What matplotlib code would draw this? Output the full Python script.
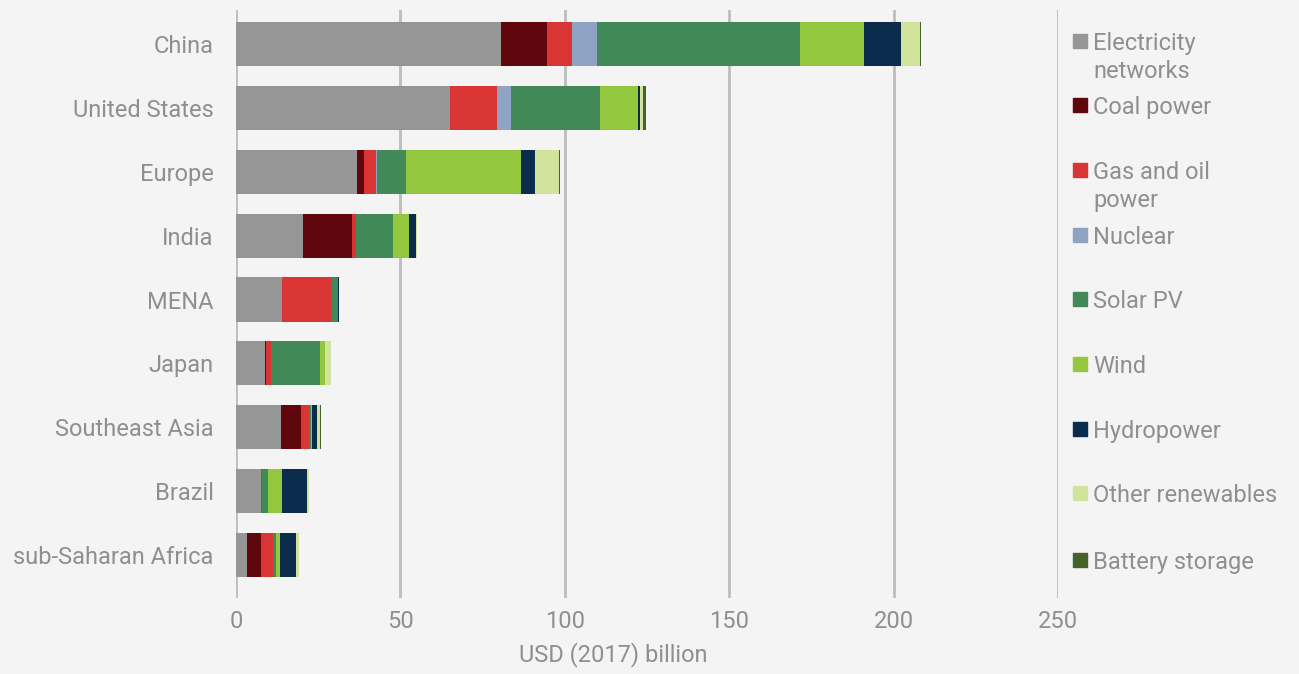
import matplotlib.pyplot as plt
import numpy as np

plt.rcParams['font.family'] = ['Roboto', 'DejaVu Sans']

regions = ['China', 'United States', 'Europe', 'India', 'MENA', 'Japan',
           'Southeast Asia', 'Brazil', 'sub-Saharan Africa']

networks = [80.6, 65.2, 36.8, 20.5, 14.1, 8.7, 13.8, 7.5, 3.2]
coal = [14.1, 0.0, 2.1, 14.7, 0.0, 0.3, 6.0, 0.0, 4.3]
gas_oil = [7.5, 14.1, 3.7, 1.3, 14.8, 1.7, 2.4, 0.4, 3.7]
nuclear = [7.6, 4.3, 0.4, 0.0, 0.0, 0.0, 0.0, 0.0, 0.0]
solar = [61.7, 27.1, 8.7, 11.3, 2.1, 14.9, 0.5, 1.8, 0.9]
wind = [19.4, 11.6, 35.1, 4.9, 0.0, 1.6, 0.5, 4.2, 1.3]
hydro = [11.3, 0.5, 4.1, 2.0, 0.3, 0.0, 1.3, 7.6, 4.9]
other = [5.8, 1.0, 7.2, 0.3, 0.0, 1.7, 1.1, 0.6, 1.0]
battery = [0.3, 0.8, 0.5, 0.0, 0.0, 0.0, 0.2, 0.0, 0.0]

series = ['Electricity\nnetworks', 'Coal power', 'Gas and oil\npower', 'Nuclear',
          'Solar PV', 'Wind', 'Hydropower', 'Other renewables', 'Battery storage']
values = [networks, coal, gas_oil, nuclear, solar, wind, hydro, other, battery]
colors = ['#969696', '#5f070c', '#d93535', '#8fa3c4', '#418956',
          '#93c83e', '#0b2c4c', '#d2e49c', '#44632a']

bg = '#f4f4f4'
txt = '#8f8f8f'

fig = plt.figure(figsize=(12.99, 6.74), dpi=100, facecolor=bg)
ax = fig.add_axes([236 / 1299, 1 - 598 / 674, (1058 - 236) / 1299, 588 / 674])
ax.set_facecolor(bg)

y = np.arange(len(regions))
left = np.zeros(len(regions))
for vals, c in zip(values, colors):
    ax.barh(y, vals, left=left, height=0.69, color=c, zorder=3)
    left += np.array(vals)

ax.set_xlim(0, 250)
ax.set_ylim(8.67, -0.53)
ax.set_xticks([0, 50, 100, 150, 200, 250])
ax.set_yticks(y)
ax.set_yticklabels(regions)
ax.tick_params(length=0, labelsize=17, colors=txt)
ax.tick_params(axis='y', pad=16)
ax.tick_params(axis='x', pad=9)
ax.grid(axis='x', color='#bdbdbd', linewidth=2, zorder=0)
for s in ax.spines.values():
    s.set_visible(False)
ax.set_xlabel('USD (2017) billion', fontsize=17, color=txt, labelpad=10)
ax.xaxis.set_label_coords(0.459, -0.075)

# legend, one entry per bar row
legend_y = [41, 105, 170, 235, 299, 364, 429, 493, 560]
for lab, c, ly in zip(series, colors, legend_y):
    fig.patches.append(plt.Rectangle((1073 / 1299, 1 - (ly + 7) / 674), 14 / 1299, 14 / 674,
                                     transform=fig.transFigure, color=c, figure=fig))
    fig.text(1093 / 1299, 1 - (ly - 9) / 674, lab, fontsize=17, color=txt,
             va='top', ha='left', linespacing=1.28)

fig.savefig('out.png', dpi=100, facecolor=bg)
